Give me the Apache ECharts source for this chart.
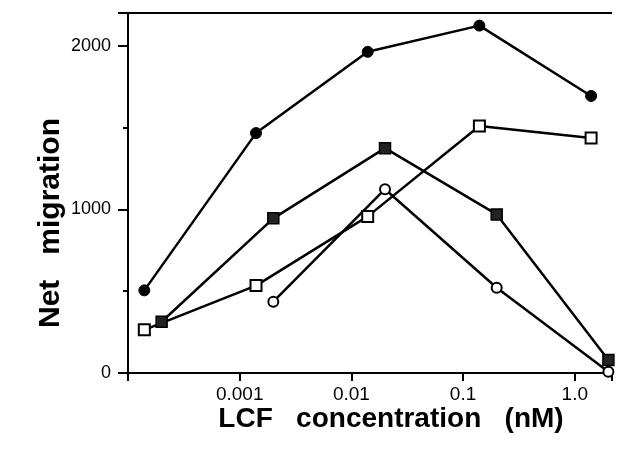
<!DOCTYPE html>
<html lang="en">
<head>
  <meta charset="UTF-8">
  <title>Net migration vs LCF concentration</title>
  <script src="https://cdn.jsdelivr.net/npm/echarts@6.0.0/dist/echarts.min.js"></script>
</head>
<body style="margin:0;background:#fff;">
  <div id="chart" style="width:634px;height:451px;"></div>
  <script>
    // concentrations (nM) for the two dose sets
    var concA = [0.00014, 0.0014, 0.014, 0.14, 1.4];
    var concB = [0.0002, 0.002, 0.02, 0.2, 2];
    var concD = [0.002, 0.02, 0.2, 2];

    // net migration values
    var filledCircle = [505, 1466, 1963, 2123, 1693];
    var filledSquare = [313, 945, 1374, 969, 80];
    var openSquare = [264, 534, 957, 1509, 1436];
    var openCircle = [436, 1123, 521, 8];

    var xTicks = [0.001, 0.01, 0.1, 1];
    var yTicks = [0, 1000, 2000];

    // x runs 1e-4 .. 10^(1/3), i.e. 13 thirds of a decade
    var xMin = 0.0001, xMax = Math.pow(10, 1 / 3);
    var yMax = 2200;

    function pairs(xs, ys) {
      var out = [];
      for (var i = 0; i < xs.length; i++) out.push([xs[i], ys[i]]);
      return out;
    }

    var chart = echarts.init(document.getElementById('chart'));
    var lineStyle = { color: '#000', width: 2.5 };
    var axisLine = { show: true, onZero: false, lineStyle: { color: '#000', width: 2 } };
    var tickLine = { color: '#000', width: 2 };
    // helper axes keep their labels "on" (ticks follow labels) but invisible
    var ghostLabel = { show: true, color: 'rgba(0,0,0,0)', fontSize: 8 };
    var plotW = 634 - 128 - 22, plotH = 451 - 13 - 78;

    var option = {
      animation: false,
      grid: { left: 128, right: 22, top: 13, bottom: 78 },
      xAxis: [{
        type: 'log',
        logBase: 10,
        min: xMin,
        max: xMax,
        name: 'LCF   concentration   (nM)',
        nameLocation: 'middle',
        nameGap: 32,
        nameMoveOverlap: false,
        nameTextStyle: {
          fontFamily: 'Liberation Sans', fontWeight: 'bold', fontSize: 28,
          color: '#000', padding: [0, 0, 0, 42]
        },
        axisLine: axisLine,
        axisTick: { show: false },
        axisLabel: {
          customValues: xTicks,
          margin: 12,
          fontFamily: 'Liberation Sans', fontSize: 19, color: '#000',
          formatter: function (v) {
            var r = Math.round(Math.log10(v));
            if (r === 0) return '1.0';
            return Math.pow(10, r).toFixed(-r);
          }
        },
        splitLine: { show: false }
      }, {
        // decade tick marks: axis in thirds of a decade, tick every 3,
        // moved down onto the bottom line
        type: 'value',
        min: 0,
        max: 13,
        interval: 3,
        position: 'top',
        offset: -plotH,
        axisLine: { show: false, onZero: false },
        axisTick: { show: true, inside: true, length: 8, lineStyle: tickLine },
        axisLabel: ghostLabel,
        splitLine: { show: false }
      }],
      yAxis: [{
        type: 'value',
        min: 0,
        max: yMax,
        interval: 500,
        name: 'Net   migration',
        nameLocation: 'middle',
        nameGap: 62,
        nameMoveOverlap: false,
        nameTextStyle: {
          fontFamily: 'Liberation Sans', fontWeight: 'bold', fontSize: 30,
          color: '#000', padding: [0, 60, 0, 0]
        },
        axisLine: axisLine,
        axisTick: { show: true, length: 5, lineStyle: tickLine },
        axisLabel: {
          customValues: yTicks,
          margin: 17,
          fontFamily: 'Liberation Sans', fontSize: 18, color: '#000',
          formatter: function (v) { return String(v); }
        },
        splitLine: { show: false }
      }, {
        // major tick marks, moved over onto the left line
        type: 'value',
        min: 0,
        max: yMax,
        interval: 1000,
        position: 'right',
        offset: -plotW,
        axisLine: { show: false, onZero: false },
        axisTick: { show: true, inside: true, length: 10, lineStyle: tickLine },
        axisLabel: ghostLabel,
        splitLine: { show: false }
      }],
      series: [{
        type: 'line',
        data: pairs(concA, filledCircle),
        symbol: 'circle',
        symbolSize: 11,
        lineStyle: lineStyle,
        itemStyle: { color: '#000', borderColor: '#000', borderWidth: 1 },
        // top frame line
        markLine: {
          silent: true,
          symbol: 'none',
          label: { show: false },
          lineStyle: { color: '#000', width: 2, type: 'solid' },
          data: [{ yAxis: yMax }]
        }
      }, {
        type: 'line',
        data: pairs(concB, filledSquare),
        symbol: 'rect',
        symbolSize: 11,
        lineStyle: lineStyle,
        itemStyle: { color: '#222', borderColor: '#000', borderWidth: 1.5 }
      }, {
        type: 'line',
        data: pairs(concA, openSquare),
        symbol: 'rect',
        symbolSize: 11,
        lineStyle: lineStyle,
        itemStyle: { color: '#fff', borderColor: '#000', borderWidth: 2 }
      }, {
        type: 'line',
        data: pairs(concD, openCircle),
        symbol: 'circle',
        symbolSize: 10,
        lineStyle: lineStyle,
        itemStyle: { color: '#fff', borderColor: '#000', borderWidth: 2 }
      }]
    };

    chart.setOption(option);
  </script>
</body>
</html>
